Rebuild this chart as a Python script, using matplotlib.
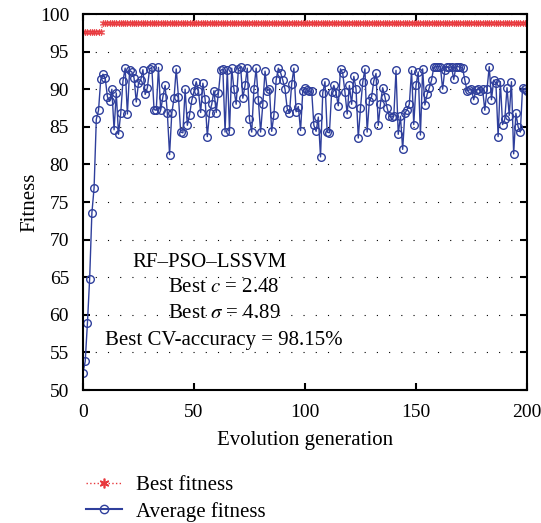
import matplotlib
matplotlib.use("Agg")
import matplotlib.pyplot as plt
from matplotlib.lines import Line2D
import numpy as np

plt.rcParams['font.family'] = ['Liberation Serif', 'DejaVu Serif']
plt.rcParams['mathtext.fontset'] = 'stix'

# 数据
generations = list(range(201))
best_fitness = [97.6] * 9 + [98.75] * 192
avg_fitness = [
    52.3, 53.8, 58.9, 64.8, 73.5, 76.9, 86.0, 87.2, 91.3, 92.0,
    91.5, 89.0, 88.4, 90.0, 84.6, 89.5, 84.0, 86.8, 91.1, 92.8,
    86.7, 92.5, 92.3, 91.5, 88.3, 90.8, 91.2, 92.6, 89.3, 90.2,
    92.7, 92.9, 87.3, 87.2, 92.9, 87.2, 89.0, 90.5, 86.8, 81.3,
    86.8, 88.8, 92.7, 89.0, 84.3, 84.2, 90.0, 85.2, 86.6, 88.5,
    89.7, 91.0, 89.8, 86.9, 90.8, 88.7, 83.7, 86.9, 88.0, 89.8,
    86.9, 89.5, 92.5, 92.7, 84.3, 92.6, 84.5, 92.8, 90.0, 88.0,
    92.7, 93.0, 88.8, 90.5, 92.8, 86.0, 84.3, 90.0, 92.8, 88.5,
    84.3, 88.0, 92.4, 89.8, 90.0, 84.4, 86.6, 91.2, 92.8, 92.2,
    91.2, 90.0, 87.4, 86.8, 90.7, 92.8, 87.0, 87.7, 84.5, 89.7,
    90.1, 89.9, 89.7, 89.8, 85.2, 84.4, 86.3, 81.0, 89.5, 91.0,
    84.3, 84.2, 89.6, 90.5, 89.5, 87.8, 92.7, 92.1, 89.6, 86.7,
    90.5, 88.0, 91.7, 90.0, 83.5, 87.5, 90.9, 92.7, 84.3, 88.4,
    89.0, 91.1, 92.1, 85.2, 88.1, 90.2, 89.0, 87.5, 86.4, 86.3,
    86.4, 92.5, 84.0, 86.4, 82.0, 86.8, 87.3, 88.0, 92.5, 85.3,
    90.5, 92.3, 83.9, 92.7, 87.9, 89.3, 90.2, 91.2, 92.9, 93.0,
    93.0, 93.0, 90.0, 92.6, 93.0, 92.9, 93.0, 91.3, 93.0, 93.0,
    92.9, 92.8, 91.2, 89.8, 89.9, 90.0, 88.6, 89.9, 90.0, 89.8,
    90.0, 87.2, 90.0, 93.0, 88.6, 91.2, 90.8, 83.7, 91.0, 85.3,
    86.0, 90.2, 86.5, 91.0, 81.4, 86.8, 85.0, 84.3, 90.2, 90.0,
    89.8,
]
xticks = [0, 50, 100, 150, 200]
yticks = list(range(50, 101, 5))

red = '#e8383d'
blue = '#2f3f9c'
fs = 15
tfs = 14

fig = plt.figure(figsize=(5.41, 5.23), dpi=100)
ax = fig.add_axes([0.1534, 0.2543, 0.8207, 0.7189])

ax.plot(generations, best_fitness, color=red, linestyle=':', linewidth=1,
        marker=(6, 2, 0), markersize=5, markeredgewidth=0.8, alpha=0.8)
ax.plot(generations, avg_fitness, color=blue, linewidth=1,
        marker='o', markersize=5.5, markerfacecolor='none', markeredgewidth=1)

ax.set_xlim(0, 200)
ax.set_ylim(50, 100)
ax.set_xticks(xticks)
ax.set_yticks(yticks)
ax.yaxis.grid(True, linestyle=(0, (1, 10)), color='black', linewidth=0.8)
ax.tick_params(direction='in', top=True, right=True, length=5, width=1.5,
               labelsize=tfs)
ax.tick_params(axis='x', pad=10)
ax.tick_params(axis='y', pad=10)
for s in ax.spines.values():
    s.set_linewidth(1.5)

ax.set_xlabel('Evolution generation', fontsize=fs, labelpad=7)
ax.set_ylabel('Fitness', fontsize=fs, labelpad=0)

ax.text(57, 66.9, 'RF–PSO–LSSVM', ha='center', va='center', fontsize=fs)
ax.text(63.5, 63.6, r'Best $c$ = 2.48', ha='center', va='center', fontsize=fs)
ax.text(63.5, 60.2, r'Best $\sigma$ = 4.89', ha='center', va='center', fontsize=fs)
ax.text(63.3, 56.6, 'Best CV-accuracy = 98.15%', ha='center', va='center', fontsize=fs)

handles = [
    Line2D([], [], color=red, linestyle=':', linewidth=1, marker=(6, 2, 0),
           markersize=7, markeredgewidth=1.2),
    Line2D([], [], color=blue, linewidth=1.5, marker='o', markersize=6,
           markerfacecolor='none', markeredgewidth=1),
]
fig.legend(handles, ['Best fitness', 'Average fitness'], loc='upper left',
           bbox_to_anchor=(0.125, 0.126), frameon=False, fontsize=fs,
           handlelength=1.7, handletextpad=0.7, labelspacing=0.3)

fig.savefig('out.png', dpi=100)
